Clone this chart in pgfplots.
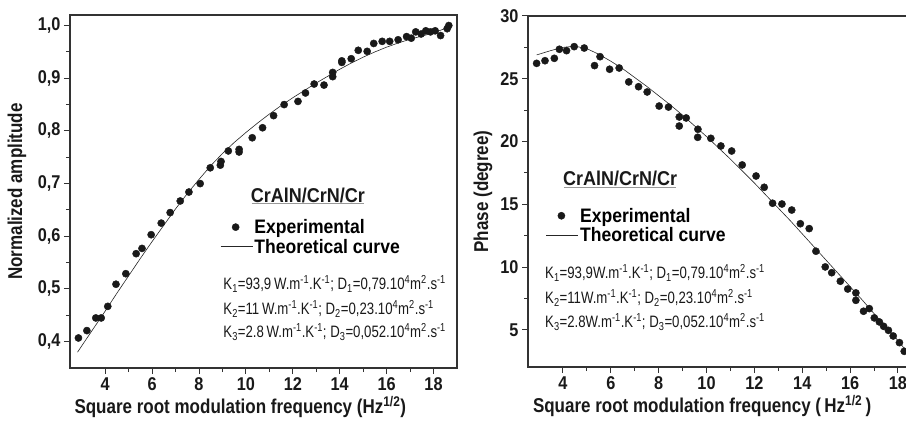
\documentclass[border=0pt]{standalone}
\usepackage{pgfplots}
\pgfplotsset{compat=1.18}
\usepackage{fontspec}
\setmainfont{Liberation Sans}
\newfontfamily\tickf[FakeStretch=0.88]{Liberation Sans}
\newfontfamily\labf[FakeStretch=0.85]{Liberation Sans}
\newfontfamily\legf[FakeStretch=0.9]{Liberation Sans}
\newfontfamily\narf[FakeStretch=0.8]{Liberation Sans}

\pgfplotsset{
  panel/.style={
    scale only axis,
    axis line style={line width=1.1pt, black!80},
    tick style={line width=1pt, black!80},
    tick align=outside,
    xtick pos=lower, ytick pos=left,
    major tick length=6pt, minor tick length=4pt,
    minor x tick num=1, minor y tick num=1,
    xtick={4,6,...,18},
    /pgf/number format/assume math mode=true,
    tick label style={font=\tickf\bfseries\fontsize{18.5}{20}\selectfont, black!90},
    xlabel style={font=\labf\bfseries\fontsize{20}{22}\selectfont, black!90},
    ylabel style={font=\labf\bfseries\fontsize{20}{22}\selectfont, black!90,
      at={(rel axis cs:0,0.5)}, rotate=0, anchor=center},
    legend cell align=left,
    legend style={draw=none, fill=none, anchor=north west, inner sep=0pt,
      row sep=1pt, font=\legf\bfseries\fontsize{19.5}{21}\selectfont,
      nodes={inner sep=1.5pt}},
  },
  expt/.style={only marks, mark=*, mark size=3.6pt, black!90,
    legend image code/.code={\draw[mark repeat=2,mark phase=2,##1] plot coordinates {(0pt,0pt)(15pt,0pt)(30pt,0pt)};}},
  theo/.style={no marks, line width=0.6pt, black!85,
    legend image code/.code={\draw[##1] (0pt,0pt) -- (32pt,0pt);}},
}

\begin{document}
\begin{tikzpicture}
\path[use as bounding box] (0pt,0pt) rectangle (906pt,424pt);

\begin{axis}[panel,
  at={(70pt,56pt)}, anchor=south west,
  width=387pt, height=353pt,
  xmin=2.5, xmax=19.0, ymin=0.35, ymax=1.02,
  ytick={0.4,0.5,...,1.0},
  yticklabel style={/pgf/number format/.cd, use comma, fixed, fixed zerofill, precision=1},
  ylabel={Normalized amplitude},
  ylabel style={yshift=53pt},
  xlabel={Square root modulation frequency (Hz\textsuperscript{1/2})},
  xlabel style={at={(rel axis cs:0.44,0)}, anchor=center, yshift=-39pt},
  legend style={at={(0.388,0.426)}},
]
\addplot[expt] coordinates {
(2.86,0.407)(3.22,0.421)(3.60,0.445)(3.83,0.445)(4.11,0.467)(4.46,0.509)
(4.88,0.529)(5.32,0.567)(5.57,0.577)(5.96,0.603)(6.39,0.625)(6.77,0.645)
(7.20,0.667)(7.57,0.684)(8.05,0.700)(8.48,0.730)(8.91,0.735)(8.94,0.742)
(9.25,0.762)(9.71,0.765)(9.71,0.760)(10.27,0.787)(10.71,0.806)(11.18,0.829)
(11.63,0.850)(12.22,0.856)(12.54,0.872)(12.91,0.889)(13.33,0.887)(13.70,0.903)
(13.70,0.911)(14.09,0.930)(14.09,0.933)(14.49,0.937)(14.79,0.953)(15.17,0.951)
(15.45,0.966)(15.81,0.970)(16.13,0.970)(16.49,0.973)(16.85,0.979)(17.05,0.976)
(17.24,0.988)(17.47,0.984)(17.67,0.990)(17.87,0.988)(18.07,0.990)(18.30,0.981)
(18.58,0.994)(18.65,1.000)};
\addlegendentry{Experimental}
\addplot[theo] coordinates {
(2.82,0.380)(3.5,0.425)(4,0.458)(4.5,0.492)(5,0.525)(5.5,0.558)(6,0.590)
(6.5,0.621)(7,0.652)(7.5,0.681)(8,0.708)(8.5,0.734)(9,0.757)(9.5,0.778)
(10,0.797)(10.5,0.815)(11,0.832)(11.5,0.848)(12,0.863)(12.5,0.877)(13,0.891)
(13.5,0.904)(14,0.917)(14.5,0.929)(15,0.940)(15.5,0.950)(16,0.959)(16.5,0.967)
(17,0.974)(17.5,0.980)(18,0.986)(18.7,0.998)};
\addlegendentry{Theoretical curve}
\node[font=\legf\bfseries\fontsize{20}{22}\selectfont, black!90] at (rel axis cs:0.6145,0.488) {CrAlN/CrN/Cr};
\draw[black!40, line width=0.6pt] (rel axis cs:0.4695,0.4674) -- (rel axis cs:0.7597,0.4674);
\begin{scope}[every node/.style={anchor=west, inner sep=0pt, font=\narf\fontsize{16.5}{18}\selectfont, black!90}]
\node at (rel axis cs:0.396,0.239) {K\textsubscript{1}=93,9\,W.m\textsuperscript{-1}.K\textsuperscript{-1}; D\textsubscript{1}=0,79.10\textsuperscript{4}m\textsuperscript{2}.s\textsuperscript{-1}};
\node at (rel axis cs:0.396,0.168) {K\textsubscript{2}=11\,W.m\textsuperscript{-1}.K\textsuperscript{-1}; D\textsubscript{2}=0,23.10\textsuperscript{4}m\textsuperscript{2}.s\textsuperscript{-1}};
\node at (rel axis cs:0.396,0.102) {K\textsubscript{3}=2.8\,W.m\textsuperscript{-1}.K\textsuperscript{-1}; D\textsubscript{3}=0,052.10\textsuperscript{4}m\textsuperscript{2}.s\textsuperscript{-1}};
\end{scope}
\end{axis}

\begin{axis}[panel,
  at={(528pt,57pt)}, anchor=south west,
  width=381pt, height=351pt,
  xmin=2.54, xmax=18.46, ymin=2.05, ymax=30,
  ytick={5,10,...,30},
  ylabel={Phase (degree)},
  ylabel style={yshift=45pt},
  xlabel={Square root modulation frequency (\,Hz\textsuperscript{1/2}\,)},
  xlabel style={at={(rel axis cs:0.457,0)}, anchor=center, yshift=-39pt},
  legend style={at={(0.047,0.458)}},
]
\addplot[expt] coordinates {
(2.90,26.23)(3.25,26.44)(3.64,26.63)(3.85,27.35)(4.15,27.24)(4.47,27.56)
(4.89,27.45)(5.32,26.05)(5.55,26.76)(5.95,25.76)(6.35,25.86)(6.75,24.75)
(7.16,24.37)(7.52,23.95)(8.02,22.83)(8.41,22.75)(8.86,21.96)(8.86,21.24)
(9.15,21.88)(9.64,20.98)(9.63,20.34)(10.18,20.26)(10.60,19.65)(11.05,19.25)
(11.49,18.14)(12.07,17.26)(12.41,16.36)(12.76,15.09)(13.15,15.03)(13.56,14.55)
(13.92,13.46)(14.29,13.07)(14.57,11.27)(14.96,10.02)(15.23,9.56)(15.59,8.88)
(15.90,8.26)(16.24,7.95)(16.24,7.36)(16.56,6.49)(16.80,6.70)(17.01,5.96)
(17.22,5.64)(17.40,5.29)(17.60,4.97)(17.80,4.52)(18.06,3.99)(18.26,3.30)};
\addlegendentry{Experimental}
\addplot[theo] coordinates {
(2.9,26.9)(3.5,27.25)(4,27.5)(4.5,27.6)(5,27.4)(5.5,26.95)(6,26.4)(6.5,25.8)
(7,25.1)(7.5,24.4)(8,23.65)(8.5,22.9)(9,22.1)(9.5,21.25)(10,20.4)(10.5,19.5)
(11,18.6)(11.5,17.65)(12,16.7)(12.5,15.7)(13,14.7)(13.5,13.7)(14,12.65)
(14.5,11.6)(15,10.55)(15.5,9.5)(16,8.45)(16.5,7.4)(17,6.3)(17.5,5.25)
(18,4.15)(18.4,3.2)};
\addlegendentry{Theoretical curve}
\node[font=\legf\bfseries\fontsize{20}{22}\selectfont, black!90] at (rel axis cs:0.242,0.5376) {CrAlN/CrN/Cr};
\draw[black!40, line width=0.6pt] (rel axis cs:0.0953,0.512) -- (rel axis cs:0.3885,0.512);
\begin{scope}[every node/.style={anchor=west, inner sep=0pt, font=\narf\fontsize{16.5}{18}\selectfont, black!90}]
\node at (rel axis cs:0.0446,0.2687) {K\textsubscript{1}=93,9W.m\textsuperscript{-1}.K\textsuperscript{-1}; D\textsubscript{1}=0,79.10\textsuperscript{4}m\textsuperscript{2}.s\textsuperscript{-1}};
\node at (rel axis cs:0.0446,0.1966) {K\textsubscript{2}=11W.m\textsuperscript{-1}.K\textsuperscript{-1}; D\textsubscript{2}=0,23.10\textsuperscript{4}m\textsuperscript{2}.s\textsuperscript{-1}};
\node at (rel axis cs:0.0446,0.1282) {K\textsubscript{3}=2.8W.m\textsuperscript{-1}.K\textsuperscript{-1}; D\textsubscript{3}=0,052.10\textsuperscript{4}m\textsuperscript{2}.s\textsuperscript{-1}};
\end{scope}
\end{axis}
\end{tikzpicture}
\end{document}
